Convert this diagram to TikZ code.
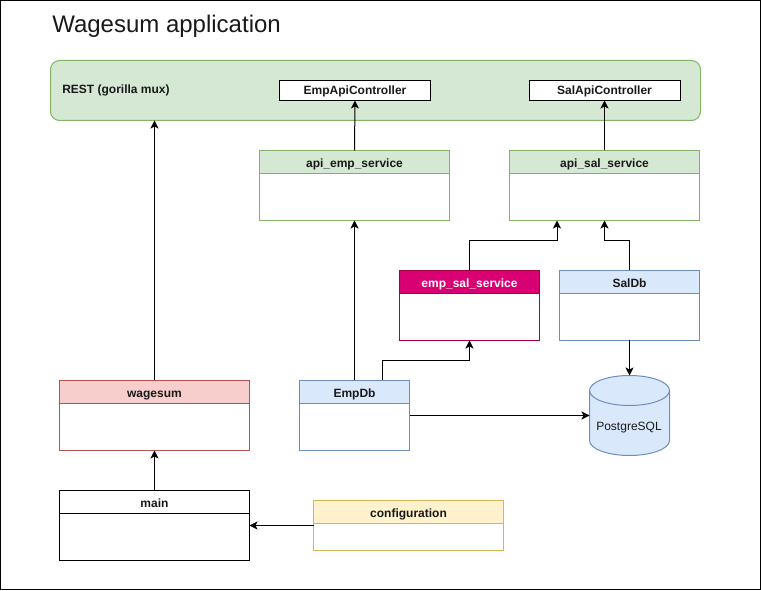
\documentclass[tikz,border=0pt]{standalone}
\usepackage{fontspec}
\setmainfont{Liberation Sans}
\usetikzlibrary{arrows.meta}

\newdimen\px
\px=0.75pt

\definecolor{greenfill}{HTML}{D5E8D4}
\definecolor{greenline}{HTML}{82B366}
\definecolor{bluefill}{HTML}{DAE8FC}
\definecolor{blueline}{HTML}{6C8EBF}
\definecolor{redfill}{HTML}{F8CECC}
\definecolor{redline}{HTML}{B85450}
\definecolor{pinkfill}{HTML}{D80073}
\definecolor{pinkline}{HTML}{A50040}
\definecolor{yellowfill}{HTML}{FFF2CC}
\definecolor{yellowline}{HTML}{D6B656}
\definecolor{plainfill}{HTML}{FFFFFF}
\definecolor{plainline}{HTML}{000000}

\tikzset{
    boxbody/.style={draw=#1line, fill=white, line width=\px, inner sep=0pt, outer sep=0pt},
    boxhead/.style={draw=#1line, fill=#1fill, line width=\px, inner sep=0pt, outer sep=0pt,
        minimum height=23\px, text height=8pt, text depth=0.4pt,
        font=\bfseries\fontsize{9pt}{11pt}\selectfont, text=black!90},
    ctrlbox/.style={draw=black, fill=white, line width=\px, inner sep=0pt, outer sep=0pt,
        minimum width=151\px, minimum height=20\px, text height=7pt, text depth=0.7pt,
        font=\bfseries\fontsize{9pt}{11pt}\selectfont, text=black!90},
    conn/.style={-{Stealth[length=6pt,width=6pt,inset=1.5pt]}, line width=\px, black},
}

% name, colour, left, top, width, height, label
\newcommand{\classbox}[7]{
    \node (#1) [boxbody=#2, anchor=north west, minimum width=#5\px, minimum height=#6\px] at (#3,#4) {};
    \node (#1-head) [boxhead=#2, anchor=north, minimum width=#5\px] at (#1.north) {#7};
}

\begin{document}
\begin{tikzpicture}[x=0.75pt, y=-0.75pt]
    \useasboundingbox (0,0) rectangle (761,591);
    \draw[line width=\px, black] (0.5,0.5) rectangle (760.5,590);

    \node (title) [anchor=base west, inner sep=0pt, text=black!90,
        font=\fontsize{18pt}{22pt}\selectfont] at (52,33) {Wagesum application};

    \node (rest) [draw=greenline, fill=greenfill, line width=\px, rounded corners=9\px,
        anchor=north west, minimum width=650\px, minimum height=60\px,
        inner sep=0pt, outer sep=0pt] at (50.5,60.5) {};
    \node (restlabel) [anchor=west, inner sep=0pt, text=black!90,
        font=\bfseries\fontsize{9pt}{11pt}\selectfont] at (62,90) {REST (gorilla mux)};

    \node (empctrl) [ctrlbox, anchor=north west] at (279.5,80.5) {EmpApiController};
    \node (salctrl) [ctrlbox, anchor=north west] at (529,80.5) {SalApiController};

    \classbox{apiemp}{green}{259.5}{150.5}{190}{70}{api\_emp\_service}
    \classbox{apisal}{green}{509.5}{150.5}{190}{70}{api\_sal\_service}
    \classbox{empsal}{pink}{399.5}{270.5}{140}{70}{\textcolor{white}{emp\_sal\_service}}
    \classbox{saldb}{blue}{559.5}{270.5}{140}{70}{SalDb}
    \classbox{wagesum}{red}{59.5}{380.5}{190}{70}{wagesum}
    \classbox{empdb}{blue}{299.5}{380.5}{110}{70}{EmpDb}
    \classbox{main}{plain}{59.5}{490.5}{190}{70}{main}
    \classbox{config}{yellow}{313.5}{500.5}{190}{50}{configuration}

    % database drum, the node only holds the anchors
    \node (pg) [inner sep=0pt, outer sep=0pt, minimum width=80\px, minimum height=80\px]
        at (629.5,415.5) {};
    \draw[draw=blueline, fill=bluefill, line width=\px]
        (589.5,390.5) -- (589.5,440.5)
        arc[start angle=180, end angle=360, x radius=40\px, y radius=15\px]
        -- (669.5,390.5)
        arc[start angle=0, end angle=180, x radius=40\px, y radius=15\px] -- cycle;
    \draw[draw=blueline, line width=\px]
        (589.5,390.5) arc[start angle=180, end angle=360, x radius=40\px, y radius=15\px];
    \node (pglabel) [inner sep=0pt, text=black!90, font=\fontsize{9pt}{11pt}\selectfont]
        at (629,428) {PostgreSQL};

    \coordinate (empup) at (382,380.5);
    \coordinate (salin) at (557,220.5);
    \coordinate (salin2) at (604.5,220.5);
    \coordinate (dbline) at (0,415.5);

    \draw[conn] (wagesum-head.north) -- (wagesum-head.north |- rest.south);
    \draw[conn] (main-head.north) -- (wagesum.south);
    \draw[conn] (config.west) -- (config.west -| main.east);
    \draw[conn] (apiemp-head.north) -- (empctrl.south);
    \draw[conn] (apisal-head.north) -- (salctrl.south);
    \draw[conn] (empdb-head.north) -- (apiemp.south);
    \draw[conn] (empup) -- ++(0,-20) -| (empsal.south);
    \draw[conn] (empsal-head.north) -- ++(0,-30) -| (salin);
    \draw[conn] (saldb-head.north) -- ++(0,-30) -| (salin2);
    \draw[conn] (saldb.south) -- (saldb.south |- pg.north);
    \draw[conn] (dbline -| empdb.east) -- (dbline -| pg.west);
\end{tikzpicture}
\end{document}
